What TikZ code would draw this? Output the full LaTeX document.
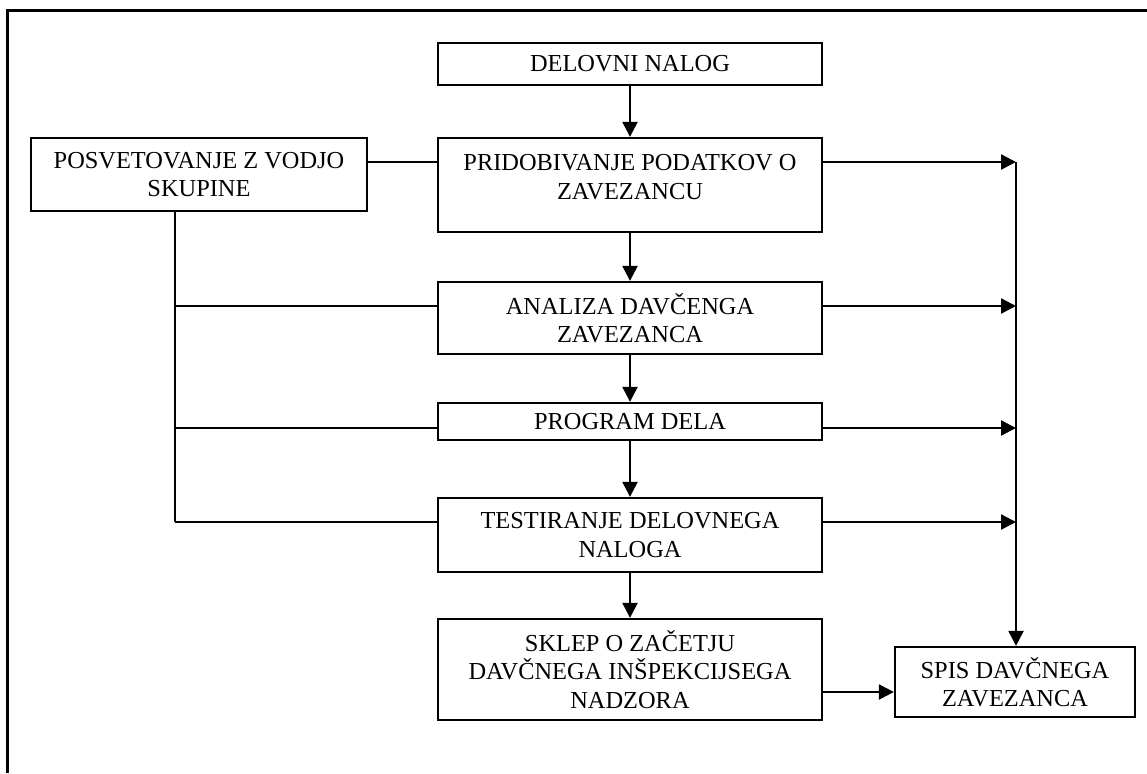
\documentclass[tikz,border=0pt]{standalone}
\usepackage{fontspec}
\setmainfont{Liberation Serif}
\usetikzlibrary{arrows.meta}
\begin{document}
\begin{tikzpicture}[x=1pt,y=-1pt,
  box/.style={draw=black, line width=2.3pt, rectangle, inner sep=0pt, align=center,
    font=\fontsize{24.4}{28.5}\selectfont},
  txt/.style={inner sep=0pt, align=center, font=\fontsize{24.4}{28.5}\selectfont},
  ln/.style={line width=2.3pt},
  arr/.style={line width=2.3pt, -{Triangle[length=15pt,width=15pt]}}]
\useasboundingbox (0,0) rectangle (1147,773);
\draw[line width=3pt] (7,773) -- (7,11) -- (1147,11);
% boxes
\node[box, minimum width=384pt, minimum height=42pt] (dn) at (630,64) {DELOVNI NALOG};
\node[box, minimum width=384pt, minimum height=94pt] (pp) at (630,185) {};
\node[txt] (pptxt) at (630,177) {PRIDOBIVANJE PODATKOV O\\ZAVEZANCU};
\node[box, minimum width=336pt, minimum height=73pt] (pv) at (199,174.5) {POSVETOVANJE Z VODJO\\SKUPINE};
\node[box, minimum width=384pt, minimum height=72pt] (an) at (630,318) {ANALIZA DAV\v{C}ENGA\\ZAVEZANCA};
\node[box, minimum width=384pt, minimum height=37pt] (pd) at (630,421.5) {PROGRAM DELA};
\node[box, minimum width=384pt, minimum height=74pt] (ts) at (630,535) {TESTIRANJE DELOVNEGA\\NALOGA};
\node[box, minimum width=384pt, minimum height=101pt] (sk) at (630,669.5) {SKLEP O ZA\v{C}ETJU\\DAV\v{C}NEGA IN\v{S}PEKCIJSEGA\\NADZORA};
\node[box, minimum width=240pt, minimum height=70pt] (sp) at (1015,682) {SPIS DAV\v{C}NEGA\\ZAVEZANCA};
% helper coordinates
\coordinate (r1) at (1016,162);
\coordinate (r2) at (1016,306);
\coordinate (r3) at (1016,428);
\coordinate (r4) at (1016,522);
\coordinate (l2) at (175,306);
\coordinate (l3) at (175,428);
\coordinate (l4) at (175,522);
\coordinate (m) at (858,692);
% down arrows
\draw[arr] (dn.south) -- (pp.north);
\draw[arr] (pp.south) -- (an.north);
\draw[arr] (an.south) -- (pd.north);
\draw[arr] (pd.south) -- (ts.north);
\draw[arr] (ts.south) -- (sk.north);
% left side
\draw[ln] (pv.east |- r1) -- (pp.west |- r1);
\draw[ln] (pv.south -| l4) -- (l4);
\draw[ln] (l2) -- (an.west |- l2);
\draw[ln] (l3) -- (pd.west |- l3);
\draw[ln] (l4) -- (ts.west |- l4);
% right side
\draw[arr] (pp.east |- r1) -- (r1);
\draw[arr] (an.east |- r2) -- (r2);
\draw[arr] (pd.east |- r3) -- (r3);
\draw[arr] (ts.east |- r4) -- (r4);
\draw[arr] (r1) -- (sp.north -| r1);
\draw[arr] (sk.east |- m) -- (sp.west |- m);
\end{tikzpicture}
\end{document}
